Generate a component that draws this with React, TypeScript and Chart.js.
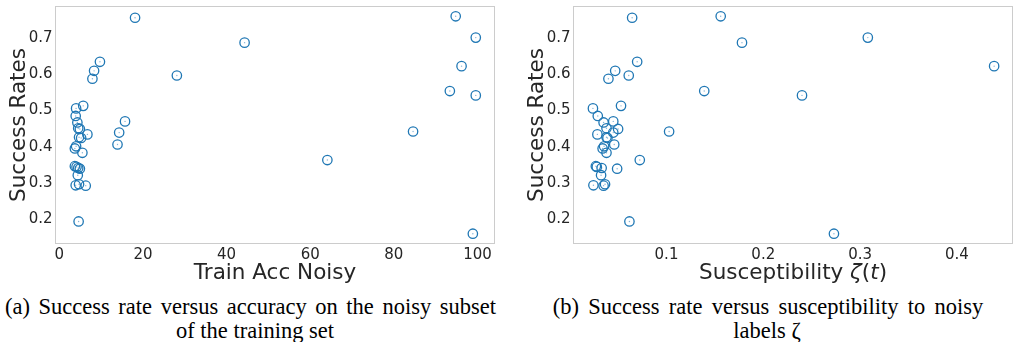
import React, { useEffect, useRef } from "react";
import { Chart, registerables } from "chart.js";

Chart.register(...registerables);

// ---------- data ----------
const successRates = [
  0.757, 0.761, 0.702, 0.688, 0.635, 0.623, 0.61, 0.597, 0.588, 0.554, 0.542, 0.513, 0.506,
  0.485, 0.47, 0.467, 0.451, 0.449, 0.442, 0.439, 0.434, 0.426, 0.424, 0.406, 0.401, 0.395,
  0.383, 0.363, 0.346, 0.344, 0.341, 0.339, 0.321, 0.293, 0.296, 0.292, 0.193, 0.159,
];
const trainAccNoisy = [
  18.1, 94.8, 99.6, 44.3, 9.7, 96.2, 8.3, 28.1, 7.9, 93.4, 99.6, 5.7, 4.0, 3.9, 15.7, 4.3,
  4.5, 4.9, 84.6, 14.3, 6.7, 4.7, 5.2, 13.9, 4.0, 3.7, 5.5, 64.1, 3.7, 4.1, 4.5, 4.9, 4.4,
  3.9, 4.7, 6.3, 4.6, 98.9,
];
const susceptibility = [
  0.0645, 0.156, 0.308, 0.178, 0.0697, 0.4385, 0.047, 0.061, 0.04, 0.139, 0.24, 0.053, 0.024,
  0.029, 0.045, 0.035, 0.038, 0.05, 0.1027, 0.045, 0.0286, 0.038, 0.039, 0.046, 0.0355, 0.034,
  0.038, 0.0724, 0.027, 0.028, 0.033, 0.049, 0.0324, 0.0245, 0.0365, 0.035, 0.0617, 0.273,
];
const successTicks = [0.2, 0.3, 0.4, 0.5, 0.6, 0.7];
const trainAccTicks = [0, 20, 40, 60, 80, 100];
const susceptibilityTicks = [0.1, 0.2, 0.3, 0.4];

const yTitle = "Success Rates";
const trainAccTitle = [{ t: "Train Acc Noisy", italic: false }];
const suscTitle = [
  { t: "Susceptibility ", italic: false },
  { t: "ζ", italic: true },
  { t: "(", italic: false },
  { t: "t", italic: true },
  { t: ")", italic: false },
];
const captionA = ["(a) Success rate versus accuracy on the noisy subset", "of the training set"];
const captionB = ["(b) Success rate versus susceptibility to noisy", "labels ζ"];

// ---------- styles ----------
const BLUE = "#1f77b4";
const TEXT = "#262626";
const FRAME = "#cccccc";
const SANS = '"DejaVu Sans"';
const TICK_SIZE = 15;
const TITLE_SIZE = 21.5;

const framePlugin = {
  id: "frame",
  beforeDatasetsDraw(chart: any) {
    const { ctx, chartArea: a } = chart;
    ctx.save();
    ctx.strokeStyle = FRAME;
    ctx.lineWidth = 1;
    ctx.strokeRect(a.left + 0.5, a.top + 0.5, a.right - a.left - 1, a.bottom - a.top - 1);
    ctx.restore();
  },
};

const titlesPlugin = {
  id: "axisTitles",
  afterDraw(chart: any, _args: any, opts: any) {
    const { ctx, chartArea: a } = chart;
    ctx.save();
    ctx.fillStyle = TEXT;
    ctx.textBaseline = "alphabetic";
    ctx.textAlign = "left";
    const fontOf = (p: any) => `${p.italic ? "italic " : ""}${TITLE_SIZE}px ${SANS}`;
    let total = 0;
    const widths = opts.xParts.map((p: any) => {
      ctx.font = fontOf(p);
      const w = ctx.measureText(p.t).width;
      total += w;
      return w;
    });
    let x = (a.left + a.right) / 2 - total / 2;
    opts.xParts.forEach((p: any, i: number) => {
      ctx.font = fontOf(p);
      ctx.fillText(p.t, x, opts.xBaseline);
      x += widths[i];
    });
    ctx.translate(opts.yBaseline, (a.top + a.bottom) / 2);
    ctx.rotate(-Math.PI / 2);
    ctx.font = `${TITLE_SIZE}px ${SANS}`;
    ctx.textAlign = "center";
    ctx.fillText(opts.yText, 0, 0);
    ctx.restore();
  },
};

const zeroPad = (s: any) => {
  s.paddingTop = 0;
  s.paddingBottom = 0;
  s.paddingLeft = 0;
  s.paddingRight = 0;
};

type PanelProps = {
  left: number;
  width: number;
  xs: number[];
  xTicks: number[];
  xMin: number;
  xMax: number;
  yAxisWidth: number;
  padRight: number;
  xParts: { t: string; italic: boolean }[];
  yBaseline: number;
};

const HEIGHT = 285;

function Panel(props: PanelProps) {
  const ref = useRef<HTMLCanvasElement | null>(null);
  useEffect(() => {
    if (!ref.current) return;
    const pts = props.xs.map((x, i) => ({ x, y: successRates[i] }));
    const chart = new Chart(ref.current, {
      type: "scatter",
      data: {
        datasets: [
          {
            data: pts,
            pointStyle: "circle",
            pointRadius: 4.7,
            pointHoverRadius: 4.7,
            pointBorderWidth: 1.3,
            borderColor: BLUE,
            backgroundColor: "rgba(0,0,0,0)",
          },
          {
            data: pts,
            pointRadius: 0.7,
            pointHoverRadius: 0.7,
            pointBorderWidth: 0,
            borderColor: "rgba(0,0,0,0)",
            backgroundColor: "rgba(31,119,180,0.55)",
          },
        ],
      },
      options: {
        responsive: false,
        animation: false,
        devicePixelRatio: 1,
        events: [],
        layout: { autoPadding: false, padding: { top: 6, right: props.padRight, left: 0, bottom: 0 } },
        plugins: {
          legend: { display: false },
          tooltip: { enabled: false },
          axisTitles: { xParts: props.xParts, xBaseline: 278.5, yBaseline: props.yBaseline, yText: yTitle },
        } as any,
        scales: {
          x: {
            type: "linear",
            min: props.xMin,
            max: props.xMax,
            grid: { display: false, drawTicks: false },
            border: { display: false },
            afterBuildTicks: (s: any) => {
              s.ticks = props.xTicks.map((v) => ({ value: v }));
            },
            afterFit: (s: any) => {
              s.height = HEIGHT - 244;
              zeroPad(s);
            },
            ticks: {
              padding: 2,
              autoSkip: false,
              maxRotation: 0,
              color: TEXT,
              font: { family: "DejaVu Sans", size: TICK_SIZE },
              callback: (v: any) => String(v),
            },
          },
          y: {
            type: "linear",
            min: 0.1305,
            max: 0.7895,
            grid: { display: false, drawTicks: false },
            border: { display: false },
            afterBuildTicks: (s: any) => {
              s.ticks = successTicks.map((v) => ({ value: v }));
            },
            afterFit: (s: any) => {
              s.width = props.yAxisWidth;
              zeroPad(s);
            },
            ticks: {
              padding: 2.5,
              autoSkip: false,
              color: TEXT,
              font: { family: "DejaVu Sans", size: TICK_SIZE },
              callback: (v: any) => String(v),
            },
          },
        },
      },
      plugins: [framePlugin, titlesPlugin],
    } as any);
    return () => chart.destroy();
  }, []);
  return (
    <canvas
      ref={ref}
      width={props.width}
      height={HEIGHT}
      style={{ position: "absolute", left: props.left, top: 0, width: props.width, height: HEIGHT }}
    />
  );
}

const CAP_FONT = 22.5;

function Caption({
  lines,
  left,
  width,
  center,
}: {
  lines: string[];
  left: number;
  width: number;
  center: number;
}) {
  const base: React.CSSProperties = {
    position: "absolute",
    lineHeight: "24px",
    height: 24,
    whiteSpace: "nowrap",
    fontFamily: '"Liberation Serif", serif',
    fontSize: CAP_FONT,
    color: "#000",
  };
  return (
    <>
      <div
        style={{
          ...base,
          left,
          width,
          top: 294.7,
          whiteSpace: "normal",
          textAlign: "justify",
          textAlignLast: "justify",
        }}
      >
        {lines[0]}
      </div>
      <div style={{ ...base, left: center - 300, width: 600, top: 318.7, textAlign: "center" }}>
        {lines[1]}
      </div>
    </>
  );
}

export default function App() {
  return (
    <div
      style={{
        position: "fixed",
        left: 0,
        top: 0,
        width: 1014,
        height: 342,
        background: "#fff",
        overflow: "hidden",
      }}
    >
      <Panel
        left={0}
        width={500}
        xs={trainAccNoisy}
        xTicks={trainAccTicks}
        xMin={-1.05}
        xMax={104.2}
        yAxisWidth={55}
        padRight={5}
        xParts={trainAccTitle}
        yBaseline={25}
      />
      <Panel
        left={500}
        width={514}
        xs={susceptibility}
        xTicks={susceptibilityTicks}
        xMin={0.0034}
        xMax={0.458}
        yAxisWidth={73}
        padRight={1}
        xParts={suscTitle}
        yBaseline={42.7}
      />
      <Caption lines={captionA} left={5} width={491} center={255} />
      <Caption lines={captionB} left={552.7} width={430.6} center={767} />
    </div>
  );
}
